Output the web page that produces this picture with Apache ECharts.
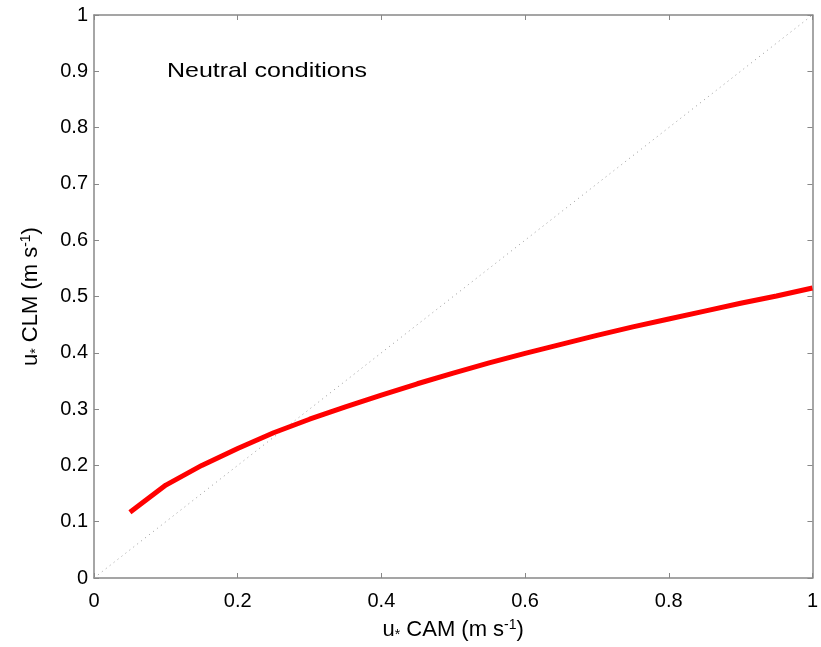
<!DOCTYPE html>
<html><head><meta charset="utf-8">
<script src="https://cdn.jsdelivr.net/npm/echarts@6/dist/echarts.min.js"></script>
<style>html,body{margin:0;padding:0;background:#fff}#c{width:821px;height:647px}</style>
</head><body><div id="c"></div>
<script>
const xCam = [0.05,0.1,0.15,0.2,0.25,0.3,0.35,0.4,0.45,0.5,0.55,0.6,0.65,0.7,0.75,0.8,0.85,0.9,0.95,1.0];
const yClm = [0.117,0.165,0.2,0.23,0.258,0.282,0.304,0.325,0.345,0.364,0.382,0.399,0.415,0.431,0.446,0.46,0.474,0.488,0.501,0.515];
const oneToOne = [[0,0],[1,1]];
const xTicks = ['0','0.2','0.4','0.6','0.8','1'];
const yTicks = ['0','0.1','0.2','0.3','0.4','0.5','0.6','0.7','0.8','0.9','1'];
const annotation = 'Neutral conditions';

const chart = echarts.init(document.getElementById('c'));
const font = 'Liberation Sans, Arial, sans-serif';
const axisColor = '#888';
const richName = {
  n: {fontSize: 22, color: '#000', fontFamily: font},
  sub: {fontSize: 14, color: '#000', fontFamily: font, padding: [10,0,0,0]},
  sup: {fontSize: 14, color: '#000', fontFamily: font, padding: [0,0,10,0]}
};
const fmtX = v => xTicks[Math.round(v / 0.2)];
const fmtY = v => yTicks[Math.round(v / 0.1)];
const baseAxis = {
  type: 'value', min: 0, max: 1,
  axisLine: {show: true, onZero: false, lineStyle: {color: axisColor, width: 1.5}},
  axisTick: {show: true, inside: true, length: 5, lineStyle: {color: axisColor}},
  splitLine: {show: false}
};
chart.setOption({
  animation: false,
  grid: {left: 94, right: 6, top: 15, bottom: 69},
  xAxis: [Object.assign({}, baseAxis, {
    interval: 0.2,
    axisLabel: {color: '#000', fontSize: 20, fontFamily: font, margin: 13, formatter: fmtX},
    name: '{n|u}{sub|*}{n| CAM (m s}{sup|-1}{n|)}',
    nameLocation: 'middle', nameGap: 40,
    nameTextStyle: {rich: richName}
  }), Object.assign({}, baseAxis, {
    interval: 0.2, position: 'top', axisLabel: {show: false}
  })],
  yAxis: [Object.assign({}, baseAxis, {
    interval: 0.1,
    axisLabel: {color: '#000', fontSize: 20, fontFamily: font, margin: 6, formatter: fmtY},
    name: '{n|u}{sub|*}{n| CLM (m s}{sup|-1}{n|)}',
    nameLocation: 'middle', nameGap: 51, nameRotate: 90,
    nameTextStyle: {rich: richName}
  }), Object.assign({}, baseAxis, {
    interval: 0.1, position: 'right', axisLabel: {show: false}
  })],
  graphic: [{
    type: 'text', x: 167, y: 61, scaleX: 1.19,
    style: {text: annotation, fontSize: 21, fontFamily: font, fill: '#000'}
  }],
  series: [{
    type: 'line', data: oneToOne, symbol: 'none', xAxisIndex: 1, yAxisIndex: 1,
    lineStyle: {color: '#999', width: 1, type: [1, 4]}
  }, {
    type: 'line', data: xCam.map((x, i) => [x, yClm[i]]), symbol: 'none',
    lineStyle: {color: '#ff0000', width: 5}
  }]
});
</script></body></html>
